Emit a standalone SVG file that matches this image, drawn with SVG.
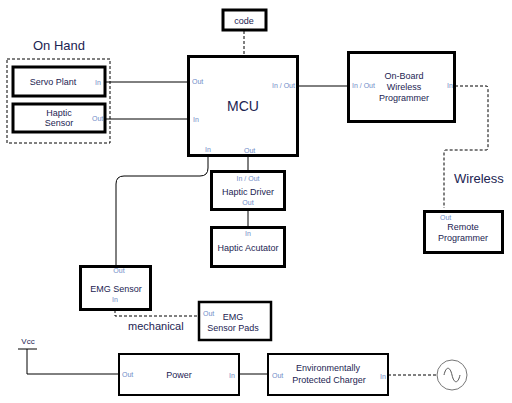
<svg xmlns="http://www.w3.org/2000/svg" width="512" height="403" viewBox="0 0 512 403">
<style>
.box{fill:#fff;stroke:#000;stroke-width:3}
.thin{stroke-width:2}
.t{font-family:"Liberation Sans",Arial,sans-serif;font-size:9px;fill:#1c2452;text-anchor:middle}
.p{font-family:"Liberation Sans",Arial,sans-serif;font-size:7px;fill:#6f8cc8}
.big{font-family:"Liberation Sans",Arial,sans-serif;font-size:13px;fill:#1c2452}
.c{fill:none;stroke:#000;stroke-width:1}
.d{fill:none;stroke:#000;stroke-width:1;stroke-dasharray:3,2}
</style>
<rect width="512" height="403" fill="#fff"/>
<g id="connectors">
<path class="c" d="M106 82H189"/>
<path class="c" d="M106 119H189"/>
<path class="d" d="M244 31V55"/>
<path class="c" d="M298 86H347"/>
<path class="d" d="M455 86H486Q488 86 488 88V148Q488 150 486 150H446Q444 150 444 152V208"/>
<path class="c" d="M208 156V168Q208 176 200 176H124Q116 176 116 184V266"/>
<path class="c" d="M248 156V171"/>
<path class="c" d="M248 210V227"/>
<path class="d" d="M115 310V316H198"/>
<path class="c" d="M18 349H37M27 349V374H118"/>
<path class="c" d="M239 374H267"/>
<path class="d" d="M388 375H437"/>
</g>
<g id="onhand">
<rect x="7" y="59" width="103" height="84" fill="none" stroke="#000" stroke-width="1" stroke-dasharray="3,2"/>
<text class="big" x="59" y="50" text-anchor="middle">On Hand</text>
</g>
<g id="servo">
<rect class="box" x="13" y="67" width="92" height="29"/>
<text class="t" x="53" y="85">Servo Plant</text>
<text class="p" x="95" y="85">In</text>
</g>
<g id="haptic-sensor">
<rect class="box" x="13" y="104" width="92" height="28"/>
<text class="t" x="59" y="116">Haptic</text>
<text class="t" x="59" y="126">Sensor</text>
<text class="p" x="92" y="121">Out</text>
</g>
<g id="code">
<rect class="box" x="223" y="10" width="43" height="20"/>
<text class="t" x="244" y="24">code</text>
</g>
<g id="mcu">
<rect class="box" x="188.5" y="56.5" width="109" height="99"/>
<text class="big" x="243" y="111" text-anchor="middle" style="font-size:14px">MCU</text>
<text class="p" x="192" y="84">Out</text>
<text class="p" x="193" y="122">In</text>
<text class="p" x="272" y="88">In / Out</text>
<text class="p" x="205" y="152">In</text>
<text class="p" x="244" y="153">Out</text>
</g>
<g id="wireless-prog">
<rect class="box" x="348.5" y="52.5" width="106" height="69"/>
<text class="t" x="404" y="79">On-Board</text>
<text class="t" x="404" y="90">Wireless</text>
<text class="t" x="404" y="101">Programmer</text>
<text class="p" x="352" y="88">In / Out</text>
<text class="p" x="447" y="88">In</text>
</g>
<text class="big" x="454" y="183">Wireless</text>
<g id="remote-prog">
<rect class="box" x="424.5" y="211.5" width="78" height="41"/>
<text class="p" x="440" y="220">Out</text>
<text class="t" x="463" y="230">Remote</text>
<text class="t" x="463" y="241">Programmer</text>
</g>
<g id="haptic-driver">
<rect class="box" x="211.5" y="171.5" width="73" height="38"/>
<text class="p" x="248" y="181" text-anchor="middle">In / Out</text>
<text class="t" x="248" y="195">Haptic Driver</text>
<text class="p" x="248" y="205" text-anchor="middle">Out</text>
</g>
<g id="haptic-actuator">
<rect class="box" x="211.5" y="227.5" width="73" height="39"/>
<text class="p" x="248" y="236" text-anchor="middle">In</text>
<text class="t" x="248" y="251">Haptic Acutator</text>
</g>
<g id="emg-sensor">
<rect class="box" x="80.5" y="266.5" width="70" height="43"/>
<text class="p" x="119" y="273" text-anchor="middle">Out</text>
<text class="t" x="116" y="292">EMG Sensor</text>
<text class="p" x="115" y="302" text-anchor="middle">In</text>
</g>
<text class="big" x="128" y="330" style="font-size:11px">mechanical</text>
<g id="emg-pads">
<rect class="box" x="199" y="302" width="72" height="38" style="stroke-width:2.5"/>
<text class="p" x="203" y="316">Out</text>
<text class="t" x="233" y="320">EMG</text>
<text class="t" x="233" y="331">Sensor Pads</text>
</g>
<g id="vcc">
<text class="t" x="28" y="344" style="font-size:8px">Vcc</text>
</g>
<g id="power">
<rect class="box thin" x="119" y="354" width="120" height="41"/>
<text class="t" x="179" y="378">Power</text>
<text class="p" x="122" y="377">Out</text>
<text class="p" x="229" y="378">In</text>
</g>
<g id="charger">
<rect class="box thin" x="268" y="354" width="120" height="41"/>
<text class="t" x="328" y="371">Environmentally</text>
<text class="t" x="329" y="383">Protected Charger</text>
<text class="p" x="272" y="378">Out</text>
<text class="p" x="380" y="379">In</text>
</g>
<g id="ac-source">
<circle cx="452" cy="375" r="15" fill="#fff" stroke="#777" stroke-width="1"/>
<path d="M444 375C446 366 450 366 452 375C454 384 458 384 460 375" fill="none" stroke="#555" stroke-width="1"/>
</g>
</svg>
